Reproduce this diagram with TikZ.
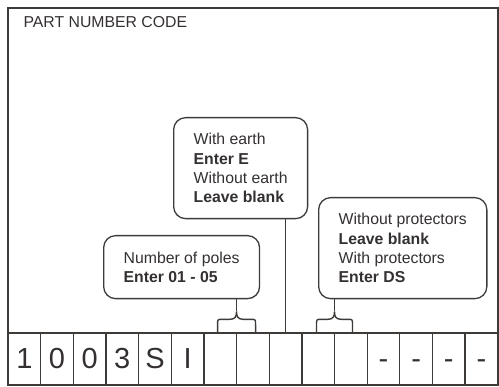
\documentclass[tikz,border=0pt]{standalone}
\usepackage{fontspec}
\setmainfont{Liberation Sans}
\usetikzlibrary{calc}
\definecolor{linecol}{RGB}{62,58,56}
\definecolor{textcol}{RGB}{52,48,48}
\newcommand\mybrace[4]{%
  \coordinate (#3m) at ($(#1.north)!0.5!(#2.north)$);
  \draw[conn] ($(#3m)+(-#4,0)$) -- ++(0,-8) .. controls +(0,-5) and +(-5,0) .. ++(5,-5)
    -- ($(#3m)+(-7,-13)$) .. controls +(6,0) and +(0,5) .. ($(#3m)+(0,-21)$) coordinate (#3)
    .. controls +(0,5) and +(-6,0) .. ($(#3m)+(7,-13)$)
    -- ($(#3m)+(#4-5,-13)$) .. controls +(5,0) and +(0,-5) .. ($(#3m)+(#4,-8)$) -- ($(#3m)+(#4,0)$);}
\begin{document}
\begin{tikzpicture}[x=1pt,y=-1pt,
  every node/.style={text=textcol},
  txt/.style={font=\fontsize{15.8}{19.4}\selectfont},
  infobox/.style={draw=linecol, line width=1.3pt, rounded corners=12pt, align=left,
    inner xsep=20pt, inner ysep=0pt, anchor=north west, txt},
  cell/.style={draw=linecol, line width=1.3pt, minimum width=32.65pt, minimum height=52pt,
    inner sep=0pt, text height=20pt, text depth=0pt, font=\fontsize{29}{30}\selectfont},
  conn/.style={draw=linecol, line width=1.4pt},
  frame/.style={draw=linecol, line width=1.6pt}]
\useasboundingbox (0,0) rectangle (499,387);
\draw[frame] (8,8) rectangle (497.7,385);
\node[anchor=base west, txt] (title) at (20,28) {PART NUMBER CODE};
\foreach \lab [count=\i] in {1,0,0,3,S,I,{},{},{},{},{},-,-,-,-}{
  \node[cell] (c\i) at ({8+(\i-0.5)*32.65},359) {\lab};
}
\node[infobox, minimum height=101pt] (earth) at (173,117)
  {With earth\\\textbf{Enter E}\\Without earth\\\textbf{Leave blank}};
\node[infobox, minimum height=63pt] (poles) at (103,235)
  {Number of poles\\\textbf{Enter 01 - 05}};
\node[infobox, minimum height=101pt] (prot) at (318,197)
  {Without protectors\\\textbf{Leave blank}\\With protectors\\\textbf{Enter DS}};
\draw[conn] (c9.north) -- (c9.north |- earth.south);
\mybrace{c7}{c8}{tipA}{19}
\draw[conn] (tipA) -- (tipA |- poles.south);
\mybrace{c10}{c11}{tipB}{18}
\draw[conn] (tipB) -- (tipB |- prot.south);
\end{tikzpicture}
\end{document}
